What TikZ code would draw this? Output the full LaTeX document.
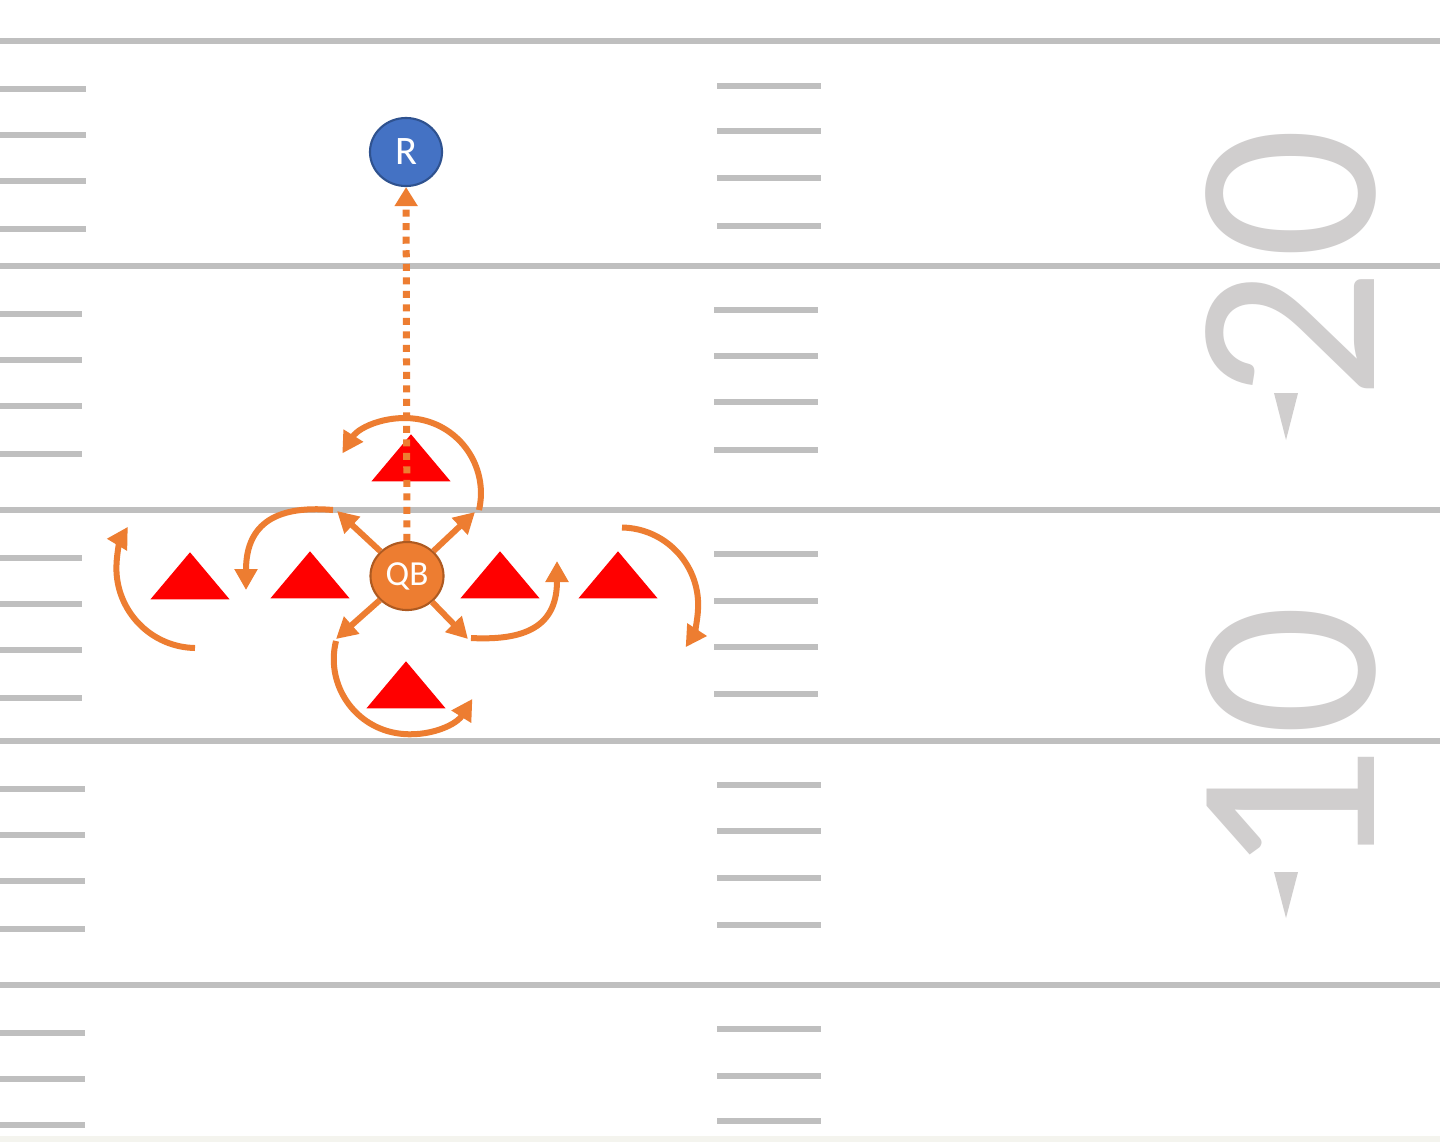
\documentclass[tikz,border=0pt]{standalone}
\usepackage{fontspec}
\setmainfont{Carlito}
\usetikzlibrary{shapes.geometric,arrows.meta}

\definecolor{fieldgray}{HTML}{BFBFBF}
\definecolor{numgray}{HTML}{D0CECE}
\definecolor{fieldcream}{HTML}{F4F4EE}
\definecolor{qborange}{HTML}{ED7D31}
\definecolor{qbedge}{HTML}{AE5A21}
\definecolor{rblue}{HTML}{4472C4}
\definecolor{redge}{HTML}{2F528F}

\begin{document}
\begin{tikzpicture}[x=0.01cm, y=-0.01cm,
	yardline/.style={draw=fieldgray, line width=0.06cm},
	hashmark/.style={draw=fieldgray, line width=0.06cm},
	yardnum/.style={rotate=90, inner sep=0pt, text=numgray, font=\fontsize{74}{74}\selectfont},
	defender/.style={isosceles triangle, shape border rotate=90, isosceles triangle stretches,
		minimum width=0.79cm, minimum height=0.47cm, inner sep=0pt, fill=red, anchor=lower side},
	passer/.style={ellipse, minimum width=0.73cm, minimum height=0.68cm, inner sep=0pt,
		fill=qborange, draw=qbedge, line width=0.6pt, text=white, font=\fontsize{10}{10}\selectfont},
	receiver/.style={ellipse, minimum width=0.72cm, minimum height=0.68cm, inner sep=0pt,
		fill=rblue, draw=redge, line width=0.6pt, text=white, font=\fontsize{11.5}{11.5}\selectfont},
	route/.style={color=qborange, line width=0.06cm, -{Triangle[length=0.21cm, width=0.22cm]}},
	pass/.style={color=qborange, line width=0.07cm, dash pattern=on 0.07cm off 0.065cm,
		-{Triangle[length=0.19cm, width=0.22cm]}}]
	
	\useasboundingbox (0, 0) rectangle (1440, 1142);
	\fill[white] (0, 0) rectangle (1440, 1142);
	\fill[fieldcream] (0, 1136) rectangle (1440, 1142);
	
	\draw[yardline] (0, 41) -- (1440, 41);
	\draw[yardline] (0, 266) -- (1440, 266);
	\draw[yardline] (0, 510) -- (1440, 510);
	\draw[yardline] (0, 741) -- (1440, 741);
	\draw[yardline] (0, 985) -- (1440, 985);
	
	\draw[hashmark] (0, 89) -- (86, 89) (0, 135) -- (86, 135) (0, 181) -- (86, 181) (0, 229) -- (86, 229);
	\draw[hashmark] (0, 314) -- (82, 314) (0, 360) -- (82, 360) (0, 406) -- (82, 406) (0, 454) -- (82, 454);
	\draw[hashmark] (0, 558) -- (82, 558) (0, 604) -- (82, 604) (0, 650) -- (82, 650) (0, 698) -- (82, 698);
	\draw[hashmark] (0, 789) -- (85, 789) (0, 835) -- (85, 835) (0, 881) -- (85, 881) (0, 929) -- (85, 929);
	\draw[hashmark] (0, 1033) -- (85, 1033) (0, 1079) -- (85, 1079) (0, 1125) -- (85, 1125);
	
	\draw[hashmark] (717, 86) -- (821, 86) (717, 131) -- (821, 131) (717, 178) -- (821, 178) (717, 226) -- (821, 226);
	\draw[hashmark] (714, 310) -- (818, 310) (714, 356) -- (818, 356) (714, 402) -- (818, 402) (714, 450) -- (818, 450);
	\draw[hashmark] (714, 554) -- (818, 554) (714, 601) -- (818, 601) (714, 647) -- (818, 647) (714, 694) -- (818, 694);
	\draw[hashmark] (717, 785) -- (821, 785) (717, 831) -- (821, 831) (717, 878) -- (821, 878) (717, 925) -- (821, 925);
	\draw[hashmark] (717, 1029) -- (821, 1029) (717, 1076) -- (821, 1076) (717, 1121) -- (821, 1121);
	
	\node[yardnum] (n20) at (1291, 264) {2\kern0.1cm0};
	\node[yardnum] (n10) at (1291, 741) {1\kern0.1cm0};
	\fill[numgray] (1274, 393) -- (1298, 393) -- (1286, 440) -- cycle;
	\fill[numgray] (1274, 872) -- (1298, 872) -- (1286, 918) -- cycle;
	
	\node[defender] (d1) at (411, 482) {};
	\node[defender] (d2) at (190, 600) {};
	\node[defender] (d3) at (310, 599) {};
	\node[defender] (d4) at (500, 599) {};
	\node[defender] (d5) at (618, 599) {};
	\node[defender] (d6) at (406, 709) {};
	
	\node[receiver] (r) at (406, 152) {R};
	\node[passer] (qb) at (407, 576) {QB};
	
	\coordinate (ul) at (337, 511);
	\coordinate (ur) at (475, 512);
	\coordinate (dl) at (336, 639);
	\coordinate (dr) at (468, 639);
	
	\path[pass] (qb) edge (r);
	\path[route] (qb) edge (ul);
	\path[route] (qb) edge (ur);
	\path[route] (qb) edge (dl);
	\path[route] (qb) edge (dr);
	
	\draw[route] (479, 510) arc[start angle=13, end angle=-148, radius=75];
	\draw[route] (336, 641) arc[start angle=194, end angle=32, radius=75];
	\draw[route] (195, 648) arc[start angle=91, end angle=211, radius=80];
	\draw[route] (622, 527.5) arc[start angle=-89, end angle=33, radius=77.5];
	\draw[route] (333, 510) to[out=175, in=90, looseness=1.35] (246, 590);
	\draw[route] (471, 638) to[out=-3, in=-90, looseness=1.35] (557, 561);
	
\end{tikzpicture}
\end{document}
